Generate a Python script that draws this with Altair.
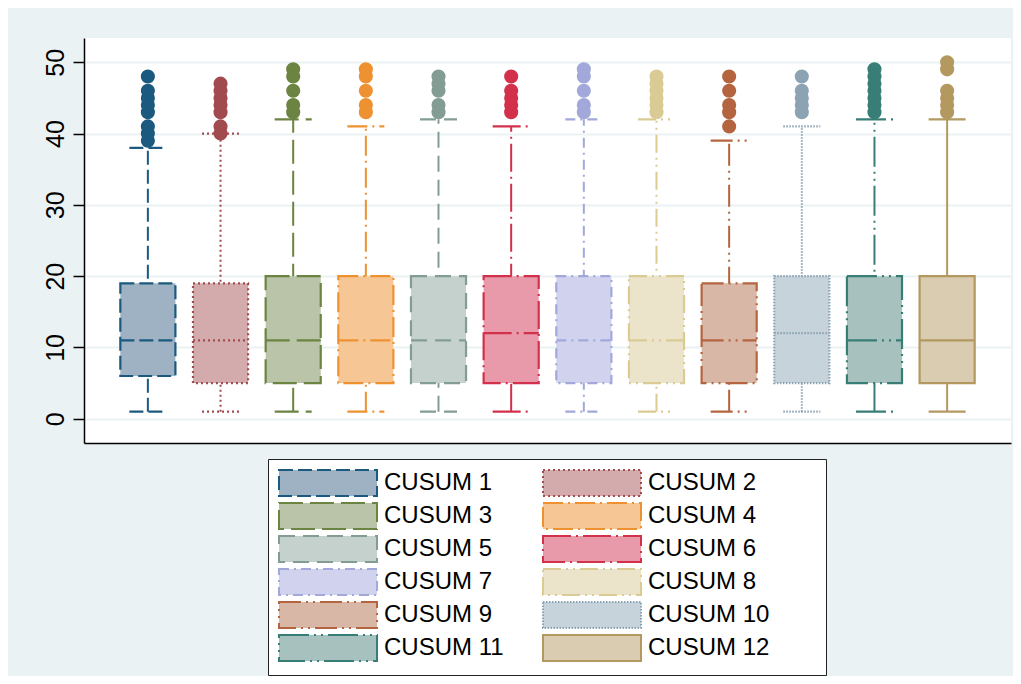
import altair as alt
import pandas as pd

series = [f"CUSUM {i}" for i in range(1, 13)]
q1 = [6, 5, 5, 5, 5, 5, 5, 5, 5, 5, 5, 5]
median = [11, 11, 11, 11, 11, 12, 11, 11, 11, 12, 11, 11]
q3 = [19, 19, 20, 20, 20, 20, 20, 20, 19, 20, 20, 20]
lower = [1, 1, 1, 1, 1, 1, 1, 1, 1, 1, 1, 1]
upper = [38, 40, 42, 41, 42, 41, 42, 42, 39, 41, 42, 42]

out_1 = [39, 40, 41, 43, 44, 45, 46, 48]
out_2 = [40, 41, 43, 44, 45, 46, 47]
out_3 = [43, 44, 46, 48, 49]
out_4 = [43, 44, 46, 48, 49]
out_5 = [43, 44, 46, 47, 48]
out_6 = [43, 44, 45, 46, 48]
out_7 = [43, 44, 46, 48, 49]
out_8 = [43, 44, 45, 46, 47, 48]
out_9 = [41, 43, 44, 46, 48]
out_10 = [43, 44, 45, 46, 48]
out_11 = [43, 44, 45, 46, 47, 48, 49]
out_12 = [43, 44, 45, 46, 49, 50]
outlier_lists = [out_1, out_2, out_3, out_4, out_5, out_6,
                 out_7, out_8, out_9, out_10, out_11, out_12]

line_colors = ["#1b5a7e", "#a24b4f", "#6c8442", "#ee9130", "#839d95", "#d3304b",
               "#a3a8da", "#d9cb93", "#b4653f", "#8ca3b4", "#387e76", "#b39860"]
fill_colors = ["#9eb2c3", "#d4abad", "#b9c4a8", "#f6c794", "#c5d1cc", "#e99aaa",
               "#d1d2ee", "#ebe4cb", "#d9b7a7", "#c6d3db", "#a7c1bf", "#d9ccb0"]
dashes = [[14, 5], [2, 3], [24, 7], [20, 5, 2, 5], [16, 8], [28, 5, 2, 5],
          [10, 5, 2, 5], [18, 5, 2, 5, 2, 5], [22, 5, 2, 5, 2, 5], [1.5, 1.5],
          [30, 5, 2, 5, 2, 5], [1, 0]]

boxes = pd.DataFrame({"series": series, "q1": q1, "median": median, "q3": q3,
                      "lower": lower, "upper": upper})
pts = pd.DataFrame([(s, v) for s, vals in zip(series, outlier_lists) for v in vals],
                   columns=["series", "value"])

legend = alt.Legend(
    orient="none", legendX=184, legendY=421, columns=2, direction="horizontal",
    title=" ", titleOrient="right", titlePadding=47, titleFontSize=8,
    symbolType="M-3.77,-1L3.77,-1L3.77,1L-3.77,1Z", symbolSize=676,
    symbolOffset=36, symbolStrokeWidth=2, labelOffset=42,
    labelFontSize=24, labelFont="Liberation Sans", labelColor="black", labelLimit=400,
    columnPadding=34, rowPadding=-1, padding=10,
    strokeColor="#222222", fillColor="white",
)

xenc = alt.X("series:N", scale=alt.Scale(domain=series, paddingInner=0.242, paddingOuter=0.5),
             axis=alt.Axis(labels=False, ticks=False, title=None, domainColor="black",
                           domainWidth=1.5, grid=False))
yscale = alt.Scale(domain=[-3.4, 53.4], nice=False, zero=False)
yaxis = alt.Axis(values=[0, 10, 20, 30, 40, 50], labelAngle=270, labelFontSize=25,
                 labelFont="Liberation Sans", labelColor="black", tickSize=11,
                 tickColor="black", tickWidth=1.5, domainColor="black", domainWidth=1.5,
                 labelPadding=5, gridColor="#eaf2f3", gridWidth=2, title=None)

stroke = alt.Stroke("series:N", scale=alt.Scale(domain=series, range=line_colors),
                    legend=legend, title=None)
fill = alt.Fill("series:N", scale=alt.Scale(domain=series, range=fill_colors),
                legend=legend, title=None)
dash = alt.StrokeDash("series:N", scale=alt.Scale(domain=series, range=dashes),
                      legend=legend, title=None)

base = alt.Chart(boxes)

whisker = base.mark_rule(strokeWidth=2).encode(
    x=xenc, y=alt.Y("lower:Q", scale=yscale, axis=yaxis), y2="upper:Q",
    stroke=stroke, strokeDash=dash)
cap_lo = base.mark_rule(strokeWidth=2.2, xOffset=-18.5, x2Offset=18.5).encode(
    x=xenc, x2="series:N", y="lower:Q", stroke=stroke, strokeDash=dash)
cap_hi = base.mark_rule(strokeWidth=2.2, xOffset=-18.5, x2Offset=18.5).encode(
    x=xenc, x2="series:N", y="upper:Q", stroke=stroke, strokeDash=dash)
box = base.mark_bar(strokeWidth=2.2, opacity=1).encode(
    x=xenc, y="q1:Q", y2="q3:Q", fill=fill, stroke=stroke, strokeDash=dash)
med = base.mark_rule(strokeWidth=2.2, xOffset=-27.5, x2Offset=27.5).encode(
    x=xenc, x2="series:N", y="median:Q", stroke=stroke, strokeDash=dash)
dots = alt.Chart(pts).mark_circle(size=200, opacity=1).encode(
    x=xenc, y="value:Q",
    color=alt.Color("series:N", scale=alt.Scale(domain=series, range=line_colors),
                    legend=None))

chart = alt.layer(whisker, box, med, cap_lo, cap_hi, dots).properties(
    width=927, height=405,
    autosize=alt.AutoSizeParams(type="none"),
    padding={"left": 76, "top": 30, "right": 2, "bottom": 233},
    background="#eaf2f3",
).configure_view(fill="white", stroke=None)

chart.save("out.html", embed_options={"renderer": "svg", "actions": False})
